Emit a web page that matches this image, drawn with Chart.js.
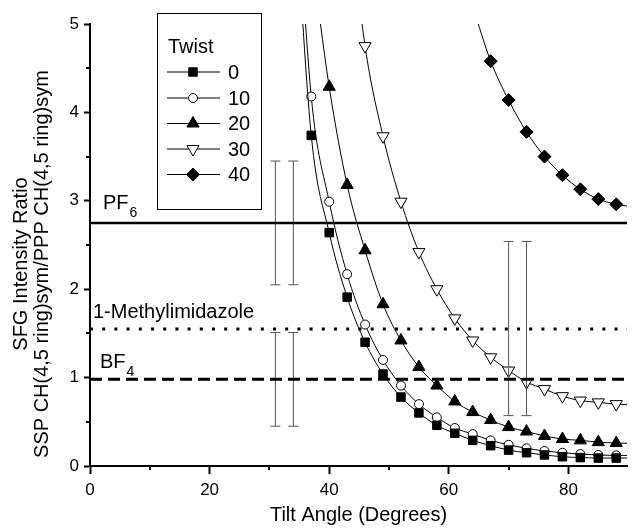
<!DOCTYPE html>
<html>
<head>
<meta charset="utf-8">
<script src="https://cdn.jsdelivr.net/npm/chart.js@4.4.1/dist/chart.umd.min.js"></script>
<style>
  html, body { margin: 0; padding: 0; background: #fff; }
</style>
</head>
<body>
<canvas id="chart" width="635" height="531"></canvas>
<script>
// tilt angles of the markers (first and last points lie outside the plot and get clipped)
const angles = [34, 37, 40, 43, 46, 49, 52, 55, 58, 61, 64, 67, 70, 73, 76, 79, 82, 85, 88, 91];

const twist0  = [6.7, 3.74, 2.64, 1.91, 1.40, 1.04, 0.78, 0.60, 0.46, 0.37, 0.29, 0.23, 0.18, 0.15, 0.125, 0.105, 0.095, 0.09, 0.09, 0.09];
const twist10 = [7.2, 4.18, 2.99, 2.17, 1.60, 1.20, 0.91, 0.70, 0.55, 0.43, 0.36, 0.29, 0.24, 0.20, 0.17, 0.15, 0.135, 0.125, 0.12, 0.12];
const twist20 = [null, 5.8, 4.29, 3.18, 2.44, 1.83, 1.42, 1.12, 0.91, 0.73, 0.61, 0.52, 0.44, 0.39, 0.34, 0.305, 0.29, 0.27, 0.26, 0.255];
const twist30 = [null, null, null, 6.5, 4.75, 3.73, 2.99, 2.42, 2.00, 1.67, 1.42, 1.23, 1.08, 0.95, 0.87, 0.79, 0.74, 0.72, 0.70, 0.69];
const twist40 = [null, null, null, null, null, null, null, null, null, null, 5.2, 4.58, 4.14, 3.78, 3.50, 3.29, 3.13, 3.02, 2.96, 2.93];

const twistNames = ['0', '10', '20', '30', '40'];

// measured reference ratios (horizontal lines)
const refNames = ['PF', '1-Methylimidazole', 'BF'];
const refSubs = ['6', '', '4'];
const refValues = [2.75, 1.55, 0.98];
const refRange = [0, 91];

// error bars
const errX    = [31, 34, 31, 34, 70, 73];
const errLow  = [2.05, 2.05, 0.45, 0.45, 0.57, 0.57];
const errHigh = [3.45, 3.45, 1.51, 1.51, 2.54, 2.54];

const xMinorTicks = [10, 30, 50, 70];
const yMinorTicks = [0.5, 1.5, 2.5, 3.5, 4.5];

const yTitle = ['SFG Intensity Ratio', 'SSP CH(4,5 ring)sym/PPP CH(4,5 ring)sym'];

const FONT = "'Liberation Sans', Arial, Helvetica, sans-serif";
Chart.defaults.font.family = FONT;
Chart.defaults.color = '#000';

const seriesStyles = [
  { pointStyle: 'rect',     radius: 6,   rotation: 0,   fill: '#000' },
  { pointStyle: 'circle',   radius: 4.5, rotation: 0,   fill: '#fff' },
  { pointStyle: 'triangle', radius: 7,   rotation: 0,   fill: '#000' },
  { pointStyle: 'triangle', radius: 7,   rotation: 180, fill: '#fff' },
  { pointStyle: 'rectRot',  radius: 6.5, rotation: 0,   fill: '#000' }
];

const refStyles = [
  { width: 2.5, dash: [] },
  { width: 3, dash: [3, 9.2] },
  { width: 3, dash: [12, 6] }
];

function toPoints(xs, ys) {
  return xs.map((x, i) => ({ x: x, y: ys[i] }));
}

const datasets = [];

refValues.forEach((v, i) => {
  datasets.push({
    label: refNames[i],
    data: refRange.map(x => ({ x: x, y: v })),
    borderColor: '#000',
    borderWidth: refStyles[i].width,
    borderDash: refStyles[i].dash,
    pointRadius: 0,
    fill: false
  });
});

// error bars: low/high pairs separated by gaps, caps drawn as 'line' points
const errData = [];
errX.forEach((x, i) => {
  errData.push({ x: x, y: errLow[i] });
  errData.push({ x: x, y: errHigh[i] });
  errData.push({ x: x, y: null });
});
datasets.push({
  label: 'err',
  data: errData,
  borderColor: '#555',
  borderWidth: 1,
  pointStyle: 'line',
  pointRadius: 5,
  pointBorderColor: '#555',
  pointBorderWidth: 1,
  spanGaps: false,
  fill: false
});

[twist0, twist10, twist20, twist30, twist40].forEach((vals, i) => {
  const s = seriesStyles[i];
  datasets.push({
    label: twistNames[i],
    data: toPoints(angles, vals),
    borderColor: '#000',
    borderWidth: 1,
    cubicInterpolationMode: 'monotone',
    pointStyle: s.pointStyle,
    pointRadius: s.radius,
    pointRotation: s.rotation,
    pointBackgroundColor: s.fill,
    pointBorderColor: '#000',
    pointBorderWidth: 1,
    spanGaps: false,
    fill: false
  });
});

const overlay = {
  id: 'overlay',
  afterDraw(chart) {
    const { ctx, chartArea, scales: { x, y } } = chart;
    ctx.save();

    // minor ticks
    ctx.strokeStyle = '#000';
    ctx.lineWidth = 2;
    xMinorTicks.forEach(v => {
      const px = Math.round(x.getPixelForValue(v));
      ctx.beginPath();
      ctx.moveTo(px, chartArea.bottom);
      ctx.lineTo(px, chartArea.bottom + 4);
      ctx.stroke();
    });
    yMinorTicks.forEach(v => {
      const py = Math.round(y.getPixelForValue(v));
      ctx.beginPath();
      ctx.moveTo(chartArea.left, py);
      ctx.lineTo(chartArea.left - 4, py);
      ctx.stroke();
    });

    // y axis title, two rotated lines
    ctx.fillStyle = '#000';
    ctx.font = '20px ' + FONT;
    ctx.textAlign = 'center';
    ctx.textBaseline = 'middle';
    [21.5, 42.5].forEach((tx, i) => {
      ctx.save();
      ctx.translate(tx, 264);
      ctx.rotate(-Math.PI / 2);
      ctx.fillText(yTitle[i], 0, 0);
      ctx.restore();
    });

    // labels of the reference lines
    const refLabelX = [103, 93, 100];
    const refLabelUp = [14, 11, 11];
    ctx.textBaseline = 'alphabetic';
    ctx.textAlign = 'left';
    refNames.forEach((name, i) => {
      const base = y.getPixelForValue(refValues[i]) - refLabelUp[i];
      ctx.font = '20px ' + FONT;
      ctx.fillText(name, refLabelX[i], base);
      if (refSubs[i]) {
        const w = ctx.measureText(name).width;
        ctx.font = '14px ' + FONT;
        ctx.fillText(refSubs[i], refLabelX[i] + w + 1, base + 8);
      }
    });

    // legend box
    const bx = 157, by = 13, bw = 104, bh = 196;
    ctx.fillStyle = '#fff';
    ctx.fillRect(bx, by, bw, bh);
    ctx.strokeStyle = '#000';
    ctx.lineWidth = 1;
    ctx.strokeRect(bx + 0.5, by + 0.5, bw, bh);
    ctx.fillStyle = '#000';
    ctx.font = '20px ' + FONT;
    ctx.textBaseline = 'middle';
    ctx.fillText('Twist', 168, 47);
    const rowY = [72, 98, 123.5, 149, 174.5];
    twistNames.forEach((name, i) => {
      const s = seriesStyles[i];
      const yy = rowY[i];
      ctx.strokeStyle = '#000';
      ctx.lineWidth = 1;
      ctx.beginPath();
      ctx.moveTo(167, yy);
      ctx.lineTo(220, yy);
      ctx.stroke();
      ctx.fillStyle = s.fill;
      Chart.helpers.drawPoint(ctx, {
        pointStyle: s.pointStyle, radius: s.radius, rotation: s.rotation, borderWidth: 1
      }, 193, yy);
      ctx.fillStyle = '#000';
      ctx.font = '20px ' + FONT;
      ctx.fillText(name, 228, yy + 1);
    });

    ctx.restore();
  }
};

new Chart(document.getElementById('chart'), {
  type: 'line',
  data: { datasets: datasets },
  options: {
    responsive: false,
    animation: false,
    layout: { padding: { top: 24, right: 0, bottom: 0, left: 0 } },
    plugins: {
      legend: { display: false },
      tooltip: { enabled: false }
    },
    scales: {
      x: {
        type: 'linear',
        min: 0,
        max: 89.8,
        afterFit(scale) { scale.height = 65; },
        ticks: { stepSize: 20, includeBounds: false, font: { size: 17 }, color: '#000', padding: 6, maxRotation: 0 },
        grid: { drawOnChartArea: false, tickLength: 8, tickColor: '#000', tickWidth: 2 },
        border: { color: '#000', width: 2 },
        title: {
          display: true,
          text: 'Tilt Angle (Degrees)',
          font: { size: 20 },
          color: '#000',
          padding: { top: 0, bottom: 4 }
        }
      },
      y: {
        type: 'linear',
        min: 0,
        max: 5,
        afterFit(scale) { scale.width = 90; },
        ticks: { stepSize: 1, font: { size: 17 }, color: '#000', padding: 5 },
        grid: { drawOnChartArea: false, tickLength: 6, tickColor: '#000', tickWidth: 2 },
        border: { color: '#000', width: 2 }
      }
    }
  },
  plugins: [overlay]
});
</script>
</body>
</html>
